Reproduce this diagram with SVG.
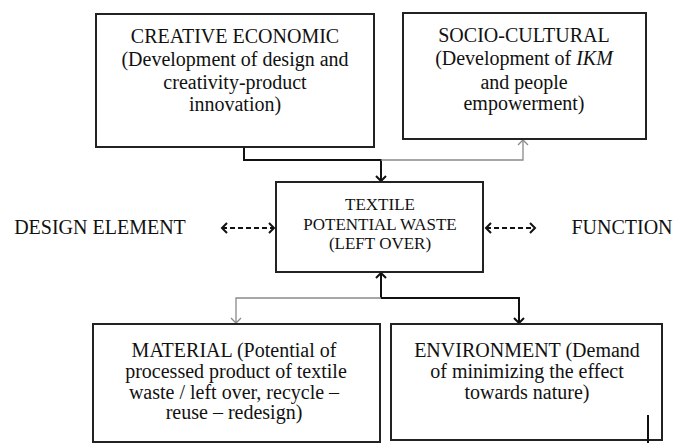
<svg xmlns="http://www.w3.org/2000/svg" width="676" height="443" viewBox="0 0 676 443">
<style>
.box{fill:#fff;stroke:#222;stroke-width:2}
.t{font-family:"Liberation Serif","Times New Roman",serif;font-size:20px;fill:#111;text-anchor:middle}
.s{font-size:17px}
.k{fill:none;stroke:#111;stroke-width:2}
.g{fill:none;stroke:#8a8a8a;stroke-width:1.3}
.d{fill:none;stroke:#111;stroke-width:2;stroke-dasharray:5 3}
</style>
<defs>
<marker id="ak" viewBox="-7 -7 9 14" markerWidth="9" markerHeight="14" refX="0" refY="0" orient="auto-start-reverse" markerUnits="userSpaceOnUse">
<path d="M-5,-5 L0,0 L-5,5" fill="none" stroke="#111" stroke-width="2"/>
</marker>
<marker id="ag" viewBox="-7 -7 9 14" markerWidth="9" markerHeight="14" refX="0" refY="0" orient="auto-start-reverse" markerUnits="userSpaceOnUse">
<path d="M-5,-5 L0,0 L-5,5" fill="none" stroke="#8a8a8a" stroke-width="1.3"/>
</marker>
</defs>
<rect width="676" height="443" fill="#fff"/>

<g id="connectors">
<path class="k" d="M244,147 V160 H381 V181" marker-end="url(#ak)"/>
<path class="g" d="M381,160 H523 V140" marker-end="url(#ag)"/>
<path class="k" d="M381,298 V273" marker-end="url(#ak)"/>
<path class="k" d="M381,298 H519 V323" marker-end="url(#ak)"/>
<path class="g" d="M381,298 H236 V323" marker-end="url(#ag)"/>
<path class="d" d="M222,228 H274" marker-start="url(#ak)" marker-end="url(#ak)"/>
<path class="d" d="M486,228 H535" marker-start="url(#ak)" marker-end="url(#ak)"/>
</g>

<g id="creative">
<rect class="box" x="96" y="14" width="278" height="133"/>
<text class="t" x="235" y="43">CREATIVE ECONOMIC</text>
<text class="t" x="235" y="66">(Development of design and</text>
<text class="t" x="235" y="89">creativity-product</text>
<text class="t" x="235" y="111">innovation)</text>
</g>

<g id="socio">
<rect class="box" x="403" y="13" width="243" height="126"/>
<text class="t" x="524" y="42">SOCIO-CULTURAL</text>
<text class="t" x="524" y="65">(Development of <tspan font-style="italic">IKM</tspan></text>
<text class="t" x="524" y="89">and people</text>
<text class="t" x="524" y="110">empowerment)</text>
</g>

<g id="center">
<rect class="box" x="276" y="182" width="207" height="90"/>
<text class="t s" x="380" y="210">TEXTILE</text>
<text class="t s" x="380" y="230">POTENTIAL WASTE</text>
<text class="t s" x="380" y="249">(LEFT OVER)</text>
</g>

<g id="design">
<text class="t" x="100" y="234">DESIGN ELEMENT</text>
</g>

<g id="function">
<text class="t" x="622" y="234">FUNCTION</text>
</g>

<g id="material">
<rect class="box" x="93" y="324" width="287" height="118"/>
<text class="t" x="234" y="357">MATERIAL (Potential of</text>
<text class="t" x="236" y="378">processed product of textile</text>
<text class="t" x="234" y="399">waste / left over, recycle –</text>
<text class="t" x="234" y="419">reuse – redesign)</text>
</g>

<g id="environment">
<rect class="box" x="391" y="324" width="271" height="116"/>
<text class="t" x="527" y="357">ENVIRONMENT (Demand</text>
<text class="t" x="527" y="378">of minimizing the effect</text>
<text class="t" x="527" y="399">towards nature)</text>
<line x1="648" y1="415" x2="648" y2="443" stroke="#111" stroke-width="2"/>
</g>
</svg>
